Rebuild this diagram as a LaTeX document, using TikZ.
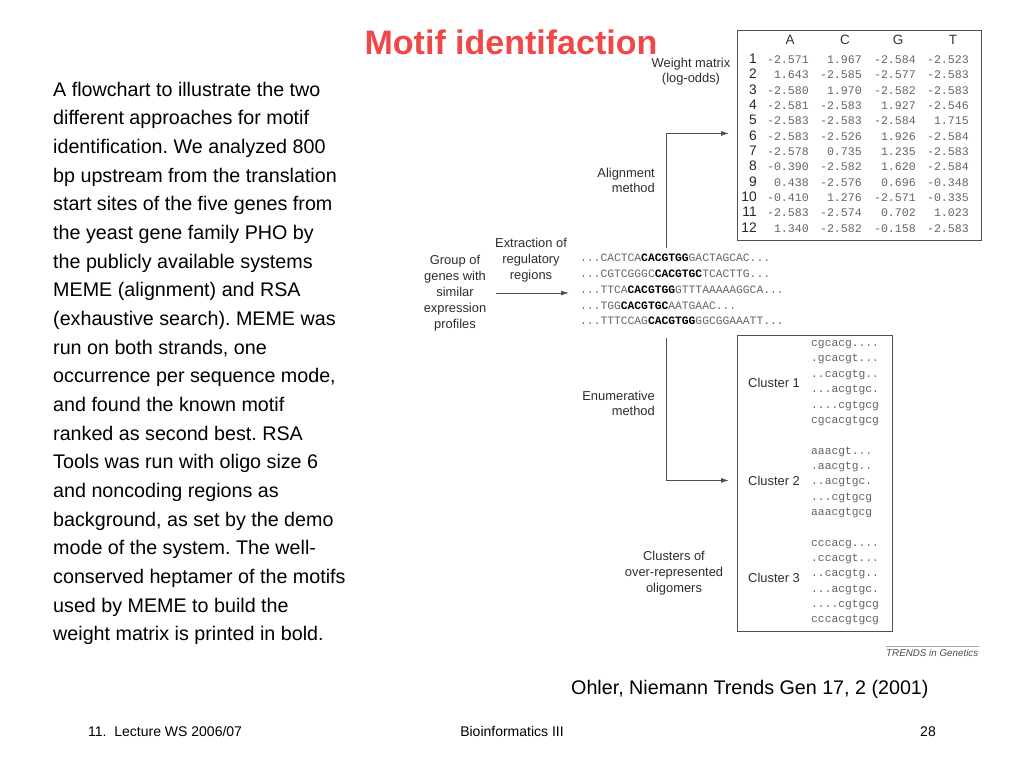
\documentclass[tikz,border=0pt]{standalone}
\usepackage{fontspec}
\setmainfont{Liberation Sans}
\setmonofont{Liberation Mono}
\usetikzlibrary{arrows.meta}
\definecolor{titlered}{RGB}{240,72,72}
\definecolor{labelgray}{RGB}{45,45,45}
\definecolor{seqgray}{RGB}{100,100,100}
\definecolor{linegray}{RGB}{80,80,80}
\frenchspacing
\begin{document}
\begin{tikzpicture}[x=1pt,y=-1pt,
  body/.style={anchor=base west, inner sep=0pt, font=\fontsize{19.7}{28.68}\selectfont},
  foot/.style={anchor=base, inner sep=0pt, font=\fontsize{14}{16}\selectfont},
  lbl/.style={inner sep=0pt, text=labelgray, font=\fontsize{12.9}{15.5}\selectfont},
  lbl16/.style={lbl, font=\fontsize{12.9}{16}\selectfont},
  mono/.style={inner sep=0pt, anchor=base west, text=seqgray, font=\ttfamily\fontsize{11.3}{15}\selectfont},
  num/.style={inner sep=0pt, anchor=base east, text=seqgray, font=\ttfamily\fontsize{11.6}{15}\selectfont},
  boxframe/.style={draw=linegray, line width=0.9pt, inner sep=0pt},
  arr/.style={draw=linegray, line width=0.9pt, -{Latex[length=8pt,width=5pt]}}
]
\useasboundingbox (0,0) rectangle (1024,768);

% title
\node[anchor=base, inner sep=0pt, text=titlered, font=\bfseries\fontsize{34}{40}\selectfont] (title) at (511,55) {Motif identifaction};

% body text
\foreach \t [count=\i from 0] in {
 {A flowchart to illustrate the two},
 {different approaches for motif},
 {identification. We analyzed 800},
 {bp upstream from the translation},
 {start sites of the five genes from},
 {the yeast gene family PHO by},
 {the publicly available systems},
 {MEME (alignment) and RSA},
 {(exhaustive search). MEME was},
 {run on both strands, one},
 {occurrence per sequence mode,},
 {and found the known motif},
 {ranked as second best. RSA},
 {Tools was run with oligo size 6},
 {and noncoding regions as},
 {background, as set by the demo},
 {mode of the system. The well-},
 {conserved heptamer of the motifs},
 {used by MEME to build the},
 {weight matrix is printed in bold.}}
 \node[body] (L\i) at (53,{96+28.68*\i}) {\t};

% citation and footer
\node[body] (cite) at (571,694) {Ohler, Niemann Trends Gen 17, 2 (2001)};
\node[foot, anchor=base west] (f1) at (88,736) {11.\ \ Lecture WS 2006/07};
\node[foot] (f2) at (512,736) {Bioinformatics III};
\node[foot] (f3) at (928,736) {28};

% weight matrix
\node[boxframe, minimum width=244, minimum height=210, anchor=north west] (wm) at (737,30) {};
\foreach \c/\x in {A/790,C/845,G/898,T/953}
  \node[lbl, anchor=base, text=black!80, font=\fontsize{13.5}{15}\selectfont] (h\c) at (\x,45) {\c};
\foreach \r/\a/\c/\g/\t in {
 1/-2.571/1.967/-2.584/-2.523,
 2/1.643/-2.585/-2.577/-2.583,
 3/-2.580/1.970/-2.582/-2.583,
 4/-2.581/-2.583/1.927/-2.546,
 5/-2.583/-2.583/-2.584/1.715,
 6/-2.583/-2.526/1.926/-2.584,
 7/-2.578/0.735/1.235/-2.583,
 8/-0.390/-2.582/1.620/-2.584,
 9/0.438/-2.576/0.696/-0.348,
 10/-0.410/1.276/-2.571/-0.335,
 11/-2.583/-2.574/0.702/1.023,
 12/1.340/-2.582/-0.158/-2.583}{
  \pgfmathsetmacro\yy{59+15.36*(\r-1)+4.3}
  \node[lbl, anchor=base east, text=black!85, font=\fontsize{13.8}{15}\selectfont] (n\r) at (757,\yy) {\r};
  \node[num] (va\r) at (809,\yy) {\a};
  \node[num] (vc\r) at (862,\yy) {\c};
  \node[num] (vg\r) at (916,\yy) {\g};
  \node[num] (vt\r) at (969,\yy) {\t};
}
\node[lbl, align=center] (wml) at (691,71.5) {Weight matrix\\(log-odds)};

% left labels
\node[lbl16, align=center] (grp) at (455,293) {Group of\\genes with\\similar\\expression\\profiles};
\node[lbl16, align=center] (ext) at (531,260) {Extraction of\\regulatory\\regions};
\node[lbl, align=right, anchor=east] (alm) at (655,180.5) {Alignment\\method};
\node[lbl, align=right, anchor=east] (enm) at (655,403.5) {Enumerative\\method};
\node[lbl16, align=center] (clo) at (674,573) {Clusters of\\over-represented\\oligomers};

% regulatory sequences
\node[mono] (s1) at (580,261.3) {...CACTCA{\bfseries\color{black}CACGTGG}GACTAGCAC...};
\node[mono] (s2) at (580,277.3) {...CGTCGGGC{\bfseries\color{black}CACGTGC}TCACTTG...};
\node[mono] (s3) at (580,293.3) {...TTCA{\bfseries\color{black}CACGTGG}GTTTAAAAAGGCA...};
\node[mono] (s4) at (580,309.3) {...TGG{\bfseries\color{black}CACGTGC}AATGAAC...};
\node[mono] (s5) at (580,324.8) {...TTTCCAG{\bfseries\color{black}CACGTGG}GGCGGAAATT...};

% cluster box
\node[boxframe, minimum width=155, minimum height=296, anchor=north west] (cl) at (737,335) {};
\node[lbl, anchor=west] (c1) at (748,383) {Cluster 1};
\node[lbl, anchor=west] (c2) at (748,481) {Cluster 2};
\node[lbl, anchor=west] (c3) at (748,578) {Cluster 3};

\node[mono] (ka0) at (811,346.5) {cgcacg....};
\node[mono] (ka1) at (811,361.9) {.gcacgt...};
\node[mono] (ka2) at (811,377.3) {..cacgtg..};
\node[mono] (ka3) at (811,392.7) {...acgtgc.};
\node[mono] (ka4) at (811,408.1) {....cgtgcg};
\node[mono] (ka5) at (811,423.5) {cgcacgtgcg};

\node[mono] (kb0) at (811,454.5) {aaacgt...};
\node[mono] (kb1) at (811,469.7) {.aacgtg..};
\node[mono] (kb2) at (811,484.9) {..acgtgc.};
\node[mono] (kb3) at (811,500.1) {...cgtgcg};
\node[mono] (kb4) at (811,515.3) {aaacgtgcg};

\node[mono] (kc0) at (811,546.5) {cccacg....};
\node[mono] (kc1) at (811,561.7) {.ccacgt...};
\node[mono] (kc2) at (811,576.9) {..cacgtg..};
\node[mono] (kc3) at (811,592.1) {...acgtgc.};
\node[mono] (kc4) at (811,607.3) {....cgtgcg};
\node[mono] (kc5) at (811,622.5) {cccacgtgcg};

% connectors
\coordinate (a1) at (666,248);
\coordinate (e1) at (666,338);
\draw[arr, shorten >=8pt] (a1) |- ([yshift=2pt]wm.west);
\draw[arr, shorten >=8pt] (e1) |- ([yshift=3pt]cl.west);
\draw[arr, shorten <=10pt, shorten >=11pt] (grp.east) -- (s3.west |- grp.east);

% journal mark
\coordinate (t1) at (886,646);
\coordinate (t2) at (979,646);
\draw[gray!70, line width=0.6pt] (t1) -- (t2);
\node[anchor=base west, inner sep=0pt, text=black!70, font=\itshape\fontsize{9.8}{11}\selectfont] (tr) at (886,656) {TRENDS in Genetics};
\end{tikzpicture}
\end{document}
